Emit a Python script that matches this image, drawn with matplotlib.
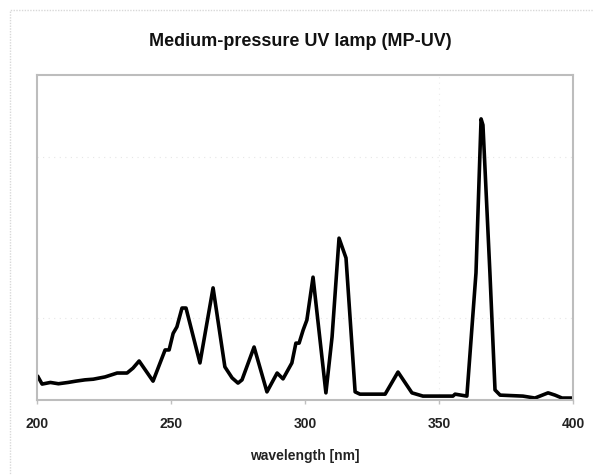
import matplotlib
matplotlib.use('Agg')
import matplotlib.pyplot as plt
from matplotlib.patches import Rectangle

# spectrum (relative intensity, 0..100 = full axis height)
wavelength = [200.4, 201.9, 205.0, 208.0, 211.6, 214.5, 217.9, 221.0, 225.4, 229.9,
              233.6, 235.8, 238.1, 243.3,
              247.8, 249.3, 250.8, 252.2, 254.1, 255.6, 260.8, 265.7, 270.1, 272.8,
              275.0, 276.5, 281.0, 285.8, 289.6, 291.8, 295.1, 296.6, 297.8, 299.3,
              300.7, 303.0, 307.8, 310.1, 312.7, 315.3, 318.7, 320.5, 329.9, 334.7,
              339.9, 344.0, 349.6, 355.2, 356.0, 360.4, 363.8, 365.7, 366.4, 369.0,
              370.9, 372.8, 381.3, 385.8, 390.7, 393.3, 395.9, 400.0]
intensity = [7.1, 4.9, 5.4, 5.0, 5.4, 5.8, 6.2, 6.4, 7.1, 8.3,
             8.3, 9.8, 12.0, 5.8,
             15.4, 15.4, 20.5, 22.5, 28.3, 28.3, 11.4, 34.5, 10.2, 6.8,
             5.2, 6.2, 16.3, 2.5, 8.3, 6.5, 11.4, 17.5, 17.5, 21.5,
             24.6, 37.8, 2.2, 19.4, 49.8, 43.7, 2.5, 1.8, 1.8, 8.6,
             2.2, 1.2, 1.2, 1.2, 1.8, 1.2, 39.1, 86.5, 84.6, 39.1,
             3.1, 1.5, 1.2, 0.6, 2.2, 1.5, 0.6, 0.6]

xticks = [200, 250, 300, 350, 400]
title = "Medium-pressure UV lamp (MP-UV)"
xlabel = "wavelength [nm]"

plt.rcParams['font.family'] = ['Liberation Sans', 'DejaVu Sans']

fig = plt.figure(figsize=(5.94, 4.75), dpi=100)
ax = fig.add_axes([37 / 594, 75 / 475, 536 / 594, 325 / 475])

# faint outer chart border
fig.patches.append(Rectangle((10 / 594, -0.1), 1.2, 1 - 10 / 475 + 0.1,
                             transform=fig.transFigure, fill=False,
                             edgecolor='#d8d8d8', linewidth=1, linestyle=(0, (1, 1))))

# very light dotted grid
for yy in [25.2, 74.8]:
    ax.axhline(yy, color='#e6e6e6', linewidth=0.8, linestyle=(0, (1, 4)), zorder=0)
ax.axvline(350, color='#ececec', linewidth=0.8, linestyle=(0, (1, 4)), zorder=0)

ax.plot(wavelength, intensity, color='black', linewidth=2.6, solid_joinstyle='round')

ax.set_xlim(200, 400)
ax.set_ylim(0, 100)
ax.set_xticks(xticks)
ax.set_xticklabels([str(t) for t in xticks], fontsize=10, fontweight='bold', color='#222222')
ax.set_yticks([])
ax.tick_params(axis='x', length=3, width=1, color='#c0c0c0', pad=9)
for s in ax.spines.values():
    s.set_color('#bdbdbd')
    s.set_linewidth(1.5)

ax.set_xlabel(xlabel, fontsize=10, fontweight='bold', color='#222222', labelpad=13)
fig.text(300 / 594, 1 - 41 / 475, title, ha='center', va='center',
         fontsize=13, fontweight='bold', color='#111111')

plt.savefig("out.png", dpi=100)
